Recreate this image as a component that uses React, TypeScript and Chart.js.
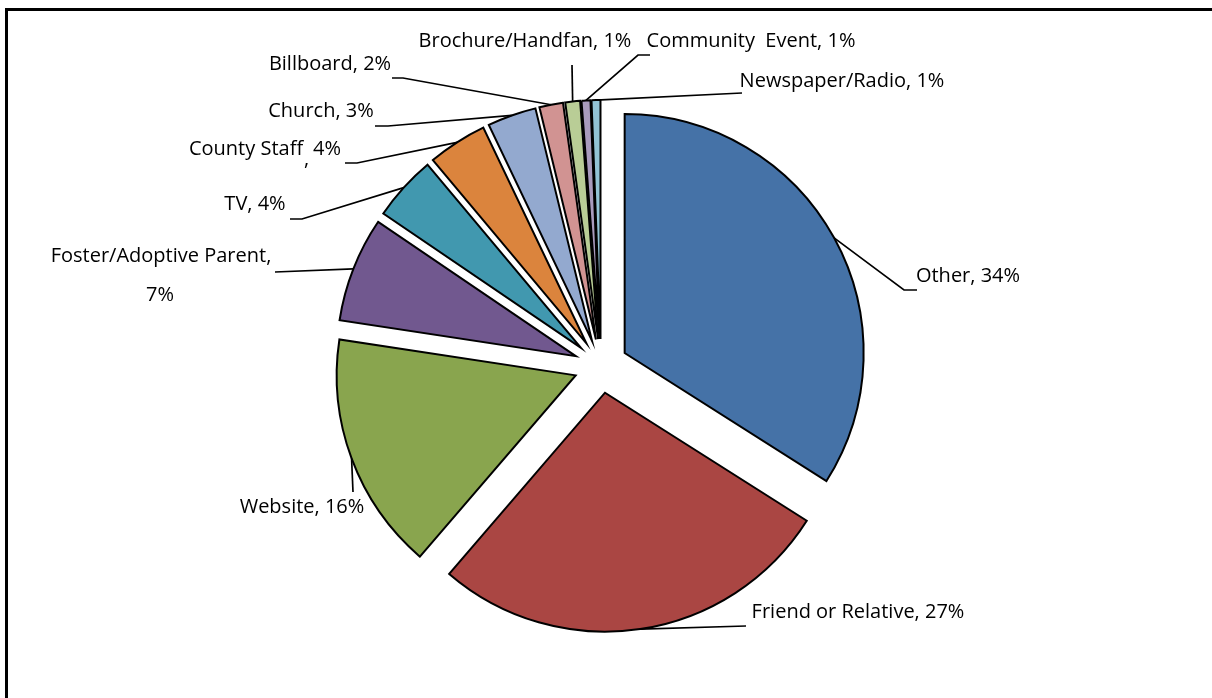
import React, { useEffect, useRef } from "react";
import { Chart, registerables } from "chart.js";

Chart.register(...registerables);

// ---- data ----
const categories: string[] = [
  "Other",
  "Friend or Relative",
  "Website",
  "Foster/Adoptive Parent",
  "TV",
  "County Staff",
  "Church",
  "Billboard",
  "Brochure/Handfan",
  "Community  Event",
  "Newspaper/Radio",
];
const values: number[] = [34.0, 27.3, 16.1, 7.1, 4.4, 4.0, 3.3, 1.6, 1.0, 0.6, 0.6];
const sliceColors: string[] = [
  "#4572A7",
  "#AA4643",
  "#89A54E",
  "#71588F",
  "#4198AF",
  "#DB843D",
  "#93A9CF",
  "#D19392",
  "#B9CD96",
  "#A99BBD",
  "#92C3D5",
];

// ---- layout / style ----
const EXPLODE = 27;
const RADIUS = 239;
const FONT = "20px 'Open Sans'";

type Pt = [number, number];
type LabelLayout = {
  mode: "single" | "wrap" | "dropComma";
  x: number;
  y: number;
  align: CanvasTextAlign;
  x2?: number;
  y2?: number;
  x3?: number;
  leader: Pt[];
};

const labelLayout: LabelLayout[] = [
  { mode: "single", x: 968, y: 282, align: "center", leader: [[904, 290], [917, 290]] },
  { mode: "single", x: 858, y: 618, align: "center", leader: [[746, 626]] },
  { mode: "single", x: 302, y: 513, align: "center", leader: [[353, 492]] },
  { mode: "wrap", x: 161, y: 262, x2: 160, y2: 301, align: "center", leader: [[275, 272]] },
  { mode: "single", x: 255, y: 210, align: "center", leader: [[302, 219], [290, 219]] },
  { mode: "dropComma", x: 246, y: 155, x2: 327, y2: 165, x3: 304, align: "center", leader: [[357, 163], [345, 163]] },
  { mode: "single", x: 321, y: 117, align: "center", leader: [[388, 126], [375, 126]] },
  { mode: "single", x: 330, y: 70, align: "center", leader: [[403, 78], [392, 78]] },
  { mode: "single", x: 525, y: 47, align: "center", leader: [[572, 65]] },
  { mode: "single", x: 751, y: 47, align: "center", leader: [[638, 55], [650, 55]] },
  { mode: "single", x: 842, y: 87, align: "center", leader: [[742, 93]] },
];

const explodePlugin = {
  id: "explode",
  afterDatasetUpdate(chart: any, args: any) {
    const meta = args.meta ?? chart.getDatasetMeta(args.index);
    meta.data.forEach((arc: any) => {
      const mid = (arc.startAngle + arc.endAngle) / 2;
      arc.x += Math.cos(mid) * EXPLODE;
      arc.y += Math.sin(mid) * EXPLODE;
    });
  },
};

const labelPlugin = {
  id: "pieLabels",
  afterDraw(chart: any) {
    const ctx: CanvasRenderingContext2D = chart.ctx;
    const meta = chart.getDatasetMeta(0);
    const total = values.reduce((a, b) => a + b, 0);
    ctx.save();
    // frame
    ctx.fillStyle = "#000";
    ctx.fillRect(5, 8, 3, chart.height);
    ctx.fillRect(5, 8, chart.width, 3);

    ctx.strokeStyle = "#000";
    ctx.lineWidth = 1.7;
    ctx.font = FONT;
    ctx.textBaseline = "alphabetic";
    meta.data.forEach((arc: any, i: number) => {
      const lay = labelLayout[i];
      if (!lay) return;
      const mid = (arc.startAngle + arc.endAngle) / 2;
      const ax = arc.x + Math.cos(mid) * arc.outerRadius;
      const ay = arc.y + Math.sin(mid) * arc.outerRadius;
      ctx.beginPath();
      ctx.moveTo(ax, ay);
      lay.leader.forEach((p) => ctx.lineTo(p[0], p[1]));
      ctx.stroke();

      const pct = Math.round((values[i] / total) * 100) + "%";
      ctx.fillStyle = "#000";
      ctx.textAlign = lay.align;
      if (lay.mode === "single") {
        ctx.fillText(`${categories[i]}, ${pct}`, lay.x, lay.y);
      } else if (lay.mode === "wrap") {
        ctx.fillText(`${categories[i]},`, lay.x, lay.y);
        ctx.fillText(pct, lay.x2 as number, lay.y2 as number);
      } else {
        ctx.textAlign = "center";
        ctx.fillText(categories[i], lay.x, lay.y);
        ctx.textAlign = "left";
        ctx.fillText(",", lay.x3 as number, lay.y2 as number);
        ctx.textAlign = "center";
        ctx.fillText(pct, lay.x2 as number, lay.y);
      }
    });
    ctx.restore();
  },
};

export default function App() {
  const canvasRef = useRef<HTMLCanvasElement | null>(null);

  useEffect(() => {
    if (!canvasRef.current) return;
    const chart = new Chart(canvasRef.current, {
      type: "pie",
      data: {
        labels: categories,
        datasets: [
          {
            data: values,
            backgroundColor: sliceColors,
            borderColor: "#000",
            borderWidth: 2,
            borderJoinStyle: "miter",
          } as any,
        ],
      },
      options: {
        animation: false,
        responsive: false,
        events: [],
        radius: RADIUS,
        layout: { padding: { left: 0, right: 10, top: 34, bottom: 0 } },
        plugins: {
          legend: { display: false },
          tooltip: { enabled: false },
        },
      } as any,
      plugins: [explodePlugin, labelPlugin],
    });
    return () => chart.destroy();
  }, []);

  return (
    <div style={{ position: "fixed", left: 0, top: 0, width: 1212, height: 698, background: "#fff" }}>
      <canvas ref={canvasRef} width={1212} height={698} />
    </div>
  );
}
